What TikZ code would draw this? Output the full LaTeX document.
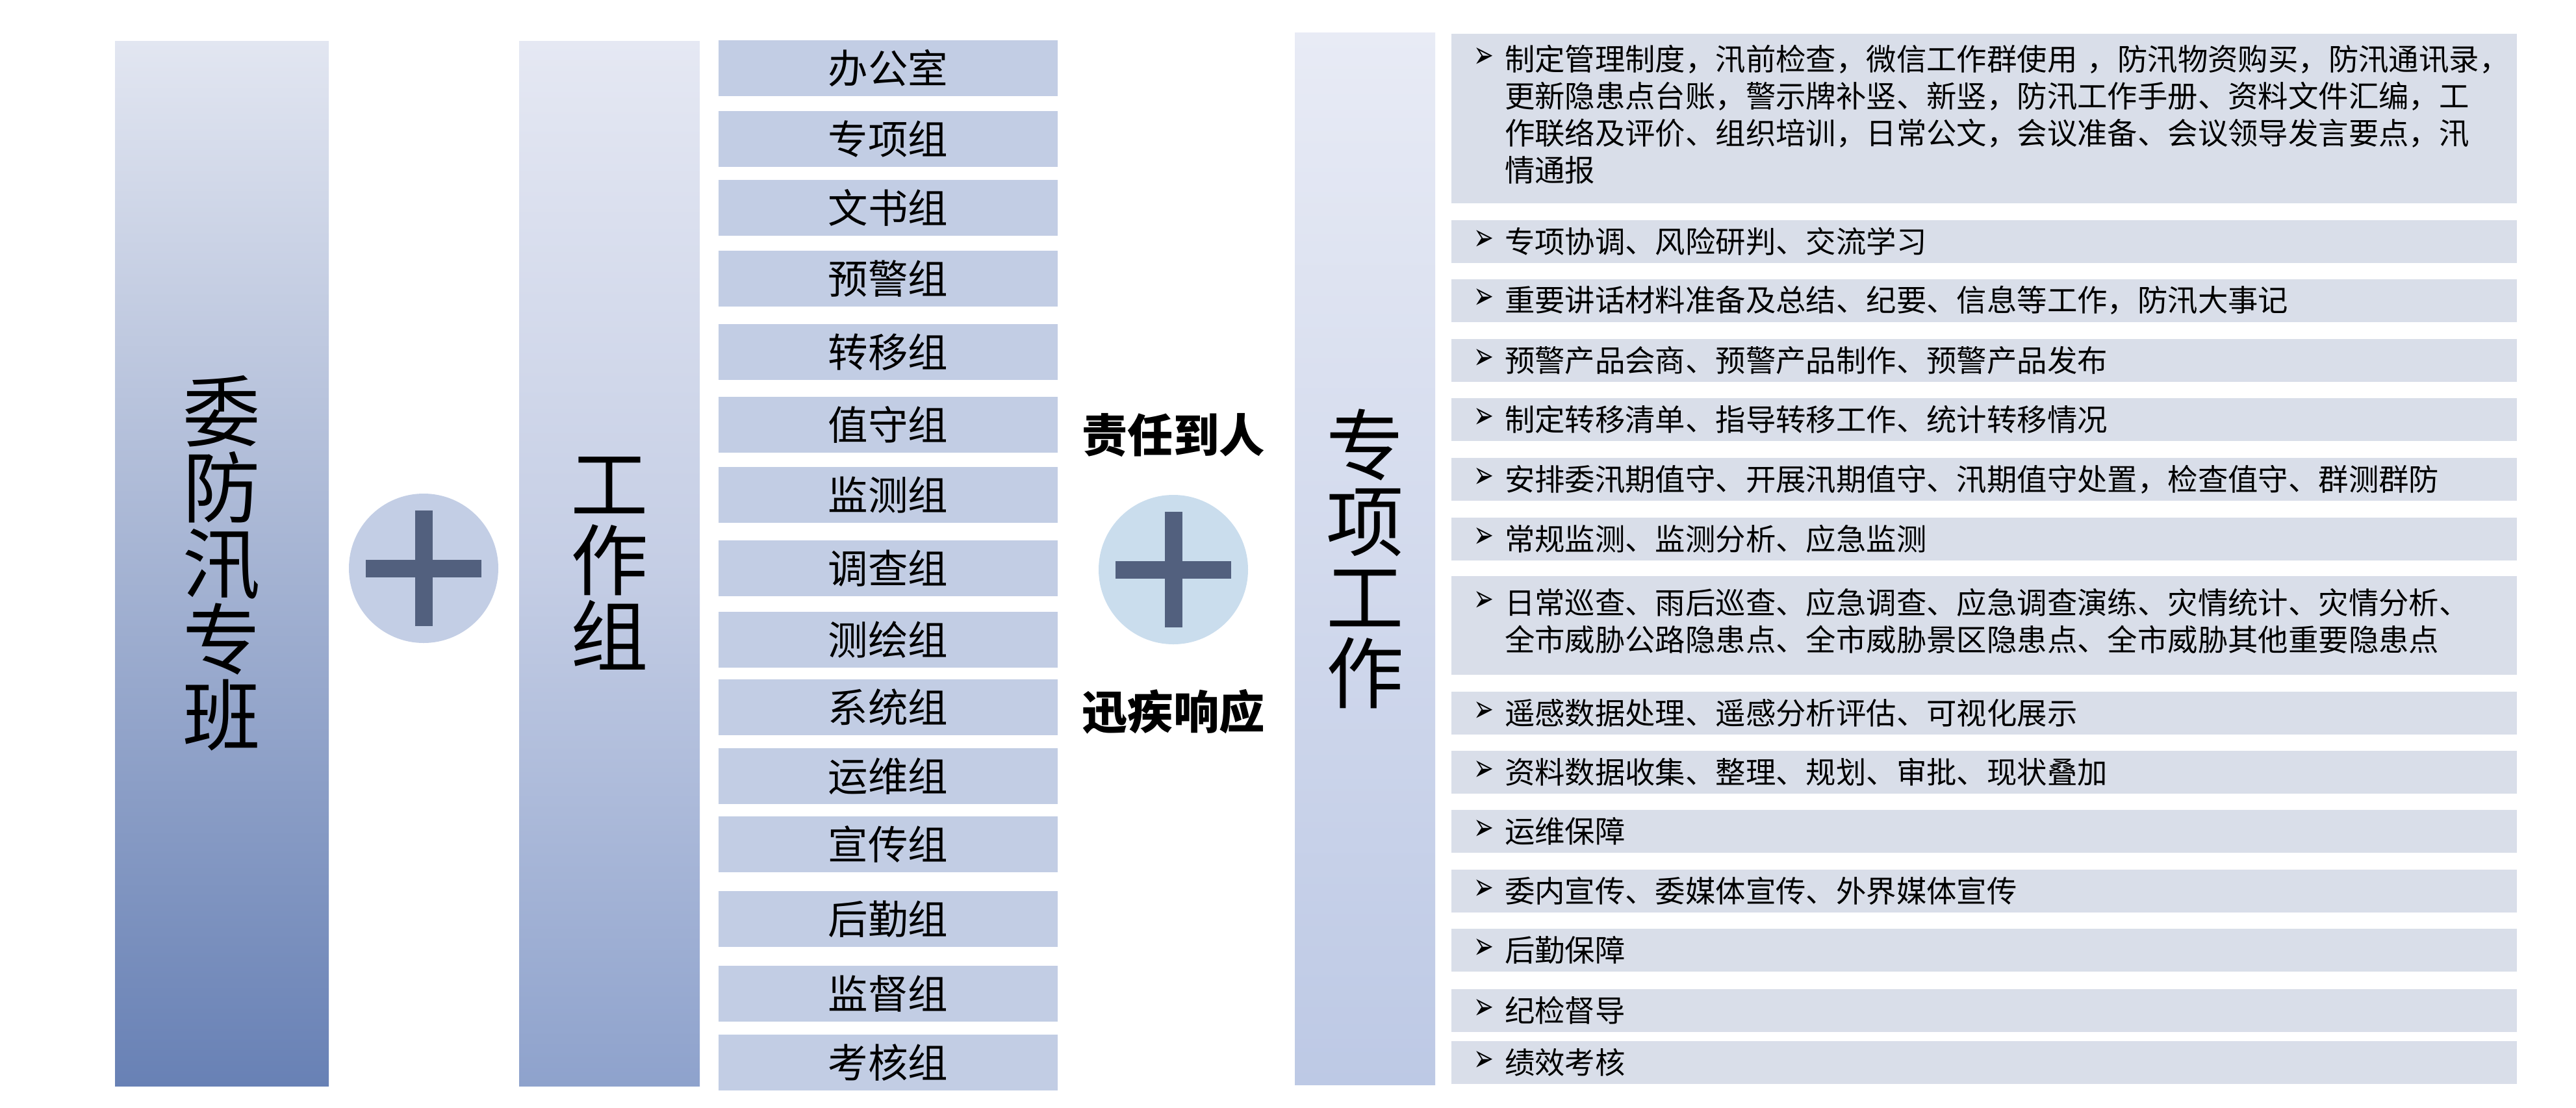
\documentclass[tikz,border=0pt]{standalone}
\usepackage{fontspec}
\usepackage{graphicx}
\setmainfont{Noto Sans CJK SC}
\newfontfamily\symfont{DejaVu Sans}
\usetikzlibrary{positioning}

\definecolor{banTop}{RGB}{226,230,241}
\definecolor{banBot}{RGB}{104,129,181}
\definecolor{zuTop}{RGB}{229,232,243}
\definecolor{zuMid}{RGB}{197,206,229}
\definecolor{zuBot}{RGB}{142,162,204}
\definecolor{workTop}{RGB}{232,235,245}
\definecolor{workBot}{RGB}{189,201,229}
\definecolor{grpBlue}{RGB}{194,205,228}
\definecolor{taskGray}{RGB}{217,222,233}
\definecolor{plusA}{RGB}{195,206,229}
\definecolor{plusB}{RGB}{202,221,237}
\definecolor{plusDark}{RGB}{82,96,126}

\newcommand{\barfont}{\fontsize{34}{33.3}\selectfont}
\newcommand{\grpfont}{\fontsize{17.5}{20}\selectfont}
\newcommand{\taskfont}{\fontsize{13.2}{16.2}\selectfont}
\newcommand{\slogfont}{\fontsize{20}{24}\selectfont\bfseries}
\newcommand{\bul}{\makebox[0.5cm][l]{\hspace{0.02cm}\raisebox{0.04cm}{\resizebox{0.31cm}{0.31cm}{\symfont ➢}}}}

\tikzset{
  bar/.style={minimum height=16.09cm, inner sep=0pt, align=center, font=\barfont},
  grpbox/.style={fill=grpBlue, minimum width=5.22cm, minimum height=0.86cm, inner sep=0pt, font=\grpfont},
  taskbox/.style={fill=taskGray, minimum height=0.66cm, text width=15.76cm, inner xsep=0.32cm, inner ysep=0pt, align=left, font=\taskfont},
  plusdisc/.style={circle, minimum size=2.3cm, inner sep=0pt},
  plusline/.style={draw=plusDark, line width=0.27cm},
  slogan/.style={inner sep=0pt, font=\slogfont}
}

\begin{document}
\begin{tikzpicture}
    \useasboundingbox (0,0) rectangle (39.65,-17.05);

    % Draw the three tall bars
    \node[bar, minimum width=3.29cm, top color=banTop, bottom color=banBot] (ban) at (3.415,-8.675) {委\\防\\汛\\专\\班};
    \node[bar, minimum width=2.78cm, top color=zuTop, bottom color=zuBot, middle color=zuMid] (zu) at (9.38,-8.675) {工\\作\\组};
    \node[bar, minimum width=2.16cm, minimum height=16.2cm, top color=workTop, bottom color=workBot] (work) at (21.01,-8.60) {专\\项\\工\\作};

    % Draw the plus signs
    \node[plusdisc, fill=plusA] (p1) at (6.52,-8.75) {};
    \draw[plusline] ([xshift=-0.89cm]p1.center) -- ([xshift=0.89cm]p1.center);
    \draw[plusline] ([yshift=-0.89cm]p1.center) -- ([yshift=0.89cm]p1.center);
    \node[plusdisc, fill=plusB] (p2) at (18.06,-8.77) {};
    \draw[plusline] ([xshift=-0.89cm]p2.center) -- ([xshift=0.89cm]p2.center);
    \draw[plusline] ([yshift=-0.89cm]p2.center) -- ([yshift=0.89cm]p2.center);
    \node[slogan, above=0.57cm of p2] (resp) {责任到人};
    \node[slogan, below=0.68cm of p2] (fast) {迅疾响应};

    % Draw the groups
    \node[grpbox] (g1) at (13.67,-1.05) {办公室};
    \node[grpbox] (g2) at (13.67,-2.14) {专项组};
    \node[grpbox] (g3) at (13.67,-3.20) {文书组};
    \node[grpbox] (g4) at (13.67,-4.29) {预警组};
    \node[grpbox] (g5) at (13.67,-5.42) {转移组};
    \node[grpbox] (g6) at (13.67,-6.54) {值守组};
    \node[grpbox] (g7) at (13.67,-7.62) {监测组};
    \node[grpbox] (g8) at (13.67,-8.75) {调查组};
    \node[grpbox] (g9) at (13.67,-9.85) {测绘组};
    \node[grpbox] (g10) at (13.67,-10.89) {系统组};
    \node[grpbox] (g11) at (13.67,-11.95) {运维组};
    \node[grpbox] (g12) at (13.67,-13.00) {宣传组};
    \node[grpbox] (g13) at (13.67,-14.15) {后勤组};
    \node[grpbox] (g14) at (13.67,-15.30) {监督组};
    \node[grpbox] (g15) at (13.67,-16.36) {考核组};

    % Draw the tasks
    \node[taskbox, minimum height=2.61cm] (t1) at (30.54,-1.825) {\bul\begin{tabular}[t]{@{}l@{}}制定管理制度，汛前检查，微信工作群使用 ，防汛物资购买，防汛通讯录，\\更新隐患点台账，警示牌补竖、新竖，防汛工作手册、资料文件汇编，工\\作联络及评价、组织培训，日常公文，会议准备、会议领导发言要点，汛\\情通报\end{tabular}};
    \node[taskbox] (t2) at (30.54,-3.715) {\bul 专项协调、风险研判、交流学习};
    \node[taskbox] (t3) at (30.54,-4.625) {\bul 重要讲话材料准备及总结、纪要、信息等工作，防汛大事记};
    \node[taskbox] (t4) at (30.54,-5.55) {\bul 预警产品会商、预警产品制作、预警产品发布};
    \node[taskbox] (t5) at (30.54,-6.46) {\bul 制定转移清单、指导转移工作、统计转移情况};
    \node[taskbox] (t6) at (30.54,-7.38) {\bul 安排委汛期值守、开展汛期值守、汛期值守处置，检查值守、群测群防};
    \node[taskbox] (t7) at (30.54,-8.295) {\bul 常规监测、监测分析、应急监测};
    \node[taskbox, minimum height=1.52cm] (t8) at (30.54,-9.63) {\bul\begin{tabular}[t]{@{}l@{}}日常巡查、雨后巡查、应急调查、应急调查演练、灾情统计、灾情分析、\\全市威胁公路隐患点、全市威胁景区隐患点、全市威胁其他重要隐患点\end{tabular}};
    \node[taskbox] (t9) at (30.54,-10.98) {\bul 遥感数据处理、遥感分析评估、可视化展示};
    \node[taskbox] (t10) at (30.54,-11.89) {\bul 资料数据收集、整理、规划、审批、现状叠加};
    \node[taskbox] (t11) at (30.54,-12.80) {\bul 运维保障};
    \node[taskbox] (t12) at (30.54,-13.72) {\bul 委内宣传、委媒体宣传、外界媒体宣传};
    \node[taskbox] (t13) at (30.54,-14.63) {\bul 后勤保障};
    \node[taskbox] (t14) at (30.54,-15.56) {\bul 纪检督导};
    \node[taskbox] (t15) at (30.54,-16.36) {\bul 绩效考核};
\end{tikzpicture}
\end{document}
